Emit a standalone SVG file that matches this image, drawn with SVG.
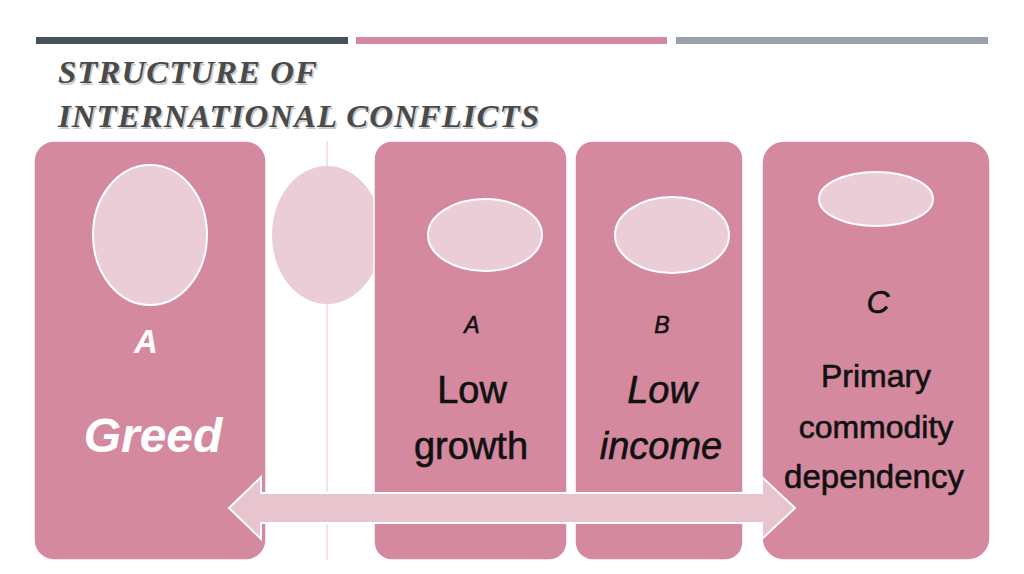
<svg xmlns="http://www.w3.org/2000/svg" width="1024" height="574" viewBox="0 0 1024 574">
<style>
.box{fill:#D4899F;stroke:#fff;stroke-width:1.5}
.oval{fill:#EACDD6;stroke:#fff;stroke-width:2}
.ttl{font-family:"Liberation Serif",serif;font-style:italic;font-weight:bold;font-size:32px;letter-spacing:1px}
.lbl{font-family:"Liberation Sans",Arial,sans-serif;text-anchor:middle;fill:#111;stroke:#111;stroke-width:0.6}
.it{font-style:italic}
.w{fill:#fff;stroke:none;font-weight:bold}
</style>
<rect width="1024" height="574" fill="#fff"/>
<g id="bars">
<rect x="36" y="37" width="312" height="7" fill="#46535A"/>
<rect x="356" y="37" width="311" height="7" fill="#D4899F"/>
<rect x="676" y="37" width="312" height="7" fill="#9BA1AA"/>
</g>
<g id="title">
<text class="ttl" x="59.5" y="84.5" fill="#c8c8c8" textLength="260" lengthAdjust="spacingAndGlyphs">STRUCTURE OF</text>
<text class="ttl" x="59.5" y="128.5" fill="#c8c8c8" textLength="482" lengthAdjust="spacingAndGlyphs">INTERNATIONAL CONFLICTS</text>
<text class="ttl" x="58" y="83" fill="#4a4a4a" textLength="260" lengthAdjust="spacingAndGlyphs">STRUCTURE OF</text>
<text class="ttl" x="58" y="127" fill="#4a4a4a" textLength="482" lengthAdjust="spacingAndGlyphs">INTERNATIONAL CONFLICTS</text>
</g>
<g id="divider">
<line x1="327" y1="141" x2="327" y2="560" stroke="#E7C4CF" stroke-width="1"/>
<ellipse cx="327" cy="235" rx="55" ry="69" fill="#EACDD6"/>
</g>
<g id="greed">
<rect class="box" x="34" y="141" width="232" height="419" rx="20"/>
<ellipse class="oval" cx="150" cy="235" rx="57" ry="70"/>
<text class="lbl it w" x="146" y="353" font-size="33">A</text>
<text class="lbl it w" x="153" y="452" font-size="48">Greed</text>
</g>
<g id="low-growth">
<rect class="box" x="374" y="141" width="193" height="419" rx="18"/>
<ellipse class="oval" cx="485" cy="235" rx="57" ry="36"/>
<text class="lbl it" x="472" y="333" font-size="23">A</text>
<text class="lbl" x="472" y="403" font-size="38">Low</text>
<text class="lbl" x="471" y="459" font-size="38">growth</text>
</g>
<g id="low-income">
<rect class="box" x="575" y="141" width="168" height="419" rx="18"/>
<ellipse class="oval" cx="672" cy="235" rx="57" ry="38"/>
<text class="lbl it" x="662" y="333" font-size="23">B</text>
<text class="lbl it" x="662" y="403" font-size="38">Low</text>
<text class="lbl it" x="661" y="459" font-size="38">income</text>
</g>
<g id="commodity">
<rect class="box" x="762" y="141" width="228" height="419" rx="22"/>
<ellipse class="oval" cx="876" cy="199" rx="57" ry="27"/>
<text class="lbl it" x="878" y="313" font-size="32">C</text>
<text class="lbl" x="876" y="387" font-size="32">Primary</text>
<text class="lbl" x="876" y="438" font-size="32">commodity</text>
<text class="lbl" x="874" y="488" font-size="33">dependency</text>
</g>
<g id="connectors">
<polygon points="229,508 261,477 261,493 762,493 762,477 795,508 762,539 762,523 261,523 261,539" fill="#E8C4CF" stroke="#fff" stroke-width="2"/>
</g>
</svg>
